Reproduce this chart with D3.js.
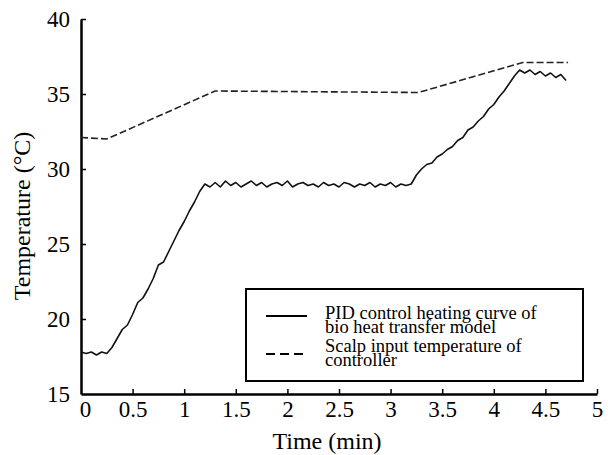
<!DOCTYPE html>
<html>
<head>
<meta charset="utf-8">
<script src="https://cdn.jsdelivr.net/npm/d3@7"></script>
<style>
  body { margin: 0; background: #fff; }
</style>
</head>
<body>
<svg id="chart"></svg>
<script>
// Scalp input temperature of controller (dashed)
const timeDashed = [0, 0.25, 1.3, 3.27, 4.28, 4.72];
const tempDashed = [32.1, 32.0, 35.2, 35.1, 37.1, 37.1];

// PID control heating curve (solid)
const timeSolid = [
  0, 0.05, 0.1, 0.15, 0.2, 0.25,
  0.3, 0.35, 0.4, 0.45, 0.5, 0.55, 0.6, 0.65, 0.7, 0.75, 0.8, 0.85, 0.9, 0.95, 1.0, 1.05, 1.1, 1.15, 1.2,
  1.25, 1.3, 1.35, 1.4, 1.45, 1.5, 1.55, 1.6, 1.65, 1.7, 1.75, 1.8, 1.85, 1.9, 1.95, 2.0, 2.05, 2.1, 2.15, 2.2,
  2.25, 2.3, 2.35, 2.4, 2.45, 2.5, 2.55, 2.6, 2.65, 2.7, 2.75, 2.8, 2.85, 2.9, 2.95, 3.0, 3.05, 3.1, 3.15, 3.2, 3.25,
  3.3, 3.35, 3.4, 3.45, 3.5, 3.55, 3.6, 3.65, 3.7, 3.75, 3.8, 3.85, 3.9, 3.95, 4.0, 4.05, 4.1, 4.15, 4.2, 4.25, 4.3,
  4.35, 4.4, 4.45, 4.5, 4.55, 4.6, 4.65, 4.7, 4.72
];
const tempSolid = [
  17.8, 17.7, 17.8, 17.6, 17.8, 17.7,
  18.1, 18.7, 19.3, 19.6, 20.3, 21.1, 21.4, 22.0, 22.7, 23.6, 23.8, 24.5, 25.2, 25.9, 26.5, 27.2, 27.8, 28.5, 29.0,
  28.8, 29.1, 28.8, 29.2, 28.9, 29.1, 28.8, 29.0, 29.2, 28.9, 29.1, 28.8, 29.0, 29.1, 28.9, 29.2, 28.8, 29.0, 29.1,
  28.9, 29.0, 28.8, 29.1, 28.9, 29.0, 28.8, 29.1, 29.0, 28.8, 29.0, 28.9, 29.1, 28.8, 29.0, 28.9, 29.1, 28.8, 29.0, 28.9, 29.0,
  29.6, 30.0, 30.3, 30.4, 30.8, 31.0, 31.3, 31.5, 31.9, 32.1, 32.6, 32.8, 33.2, 33.5, 34.0, 34.3, 34.8, 35.2, 35.7, 36.2, 36.6,
  36.4, 36.6, 36.3, 36.5, 36.2, 36.4, 36.1, 36.3, 35.9
];

const xTicks = [0, 0.5, 1, 1.5, 2, 2.5, 3, 3.5, 4, 4.5, 5];
const yTicks = [15, 20, 25, 30, 35, 40];
const legendLabels = [
  ["PID control heating curve of", "bio heat transfer model"],
  ["Scalp input temperature of", "controller"]
];

const serif = "Liberation Serif";

const width = 608, height = 455;
const margin = { top: 19, right: 11, bottom: 61, left: 81 };

const svg = d3.select("#chart").attr("width", width).attr("height", height);

const x = d3.scaleLinear().domain([0, 5]).range([margin.left, width - margin.right]);
const y = d3.scaleLinear().domain([15, 40]).range([height - margin.bottom, margin.top]);

// axes with inward ticks
const xAxis = svg.append("g")
  .attr("transform", `translate(0,${y(15)})`)
  .call(d3.axisBottom(x).tickValues(xTicks).tickSize(-5).tickSizeOuter(0).tickPadding(7)
    .tickFormat(d3.format("")));
const yAxis = svg.append("g")
  .attr("transform", `translate(${x(0)},0)`)
  .call(d3.axisLeft(y).tickValues(yTicks).tickSize(-5).tickSizeOuter(0).tickPadding(11));

[xAxis, yAxis].forEach(a => {
  a.select(".domain").attr("stroke", "#000").attr("stroke-width", 2.5);
  a.selectAll(".tick line").attr("stroke", "#000").attr("stroke-width", 1.5);
  a.selectAll(".tick text")
    .attr("fill", "#000")
    .attr("font-family", serif)
    .attr("font-size", 23);
});
// first x label sits right of the axis line
xAxis.selectAll(".tick").filter(d => d === 0).select("text").attr("dx", 4);
xAxis.selectAll(".tick").filter(d => d === 0).select("line").remove();
yAxis.selectAll(".tick").filter(d => d === 15).select("line").remove();

// axis titles
svg.append("text")
  .attr("x", 327).attr("y", 449)
  .attr("text-anchor", "middle")
  .attr("font-family", serif).attr("font-size", 24)
  .text("Time (min)");
svg.append("text")
  .attr("transform", `translate(30,216) rotate(-90)`)
  .attr("text-anchor", "middle")
  .attr("font-family", serif).attr("font-size", 24)
  .text("Temperature (°C)");

// lines
const line = d3.line().x(d => x(d[0])).y(d => y(d[1]));

svg.append("path")
  .datum(timeDashed.map((t, i) => [t, tempDashed[i]]))
  .attr("d", line)
  .attr("fill", "none").attr("stroke", "#222").attr("stroke-width", 1.6)
  .attr("stroke-dasharray", "7,3");

svg.append("path")
  .datum(timeSolid.map((t, i) => [t, tempSolid[i]]))
  .attr("d", line)
  .attr("fill", "none").attr("stroke", "#111").attr("stroke-width", 1.6)
  .attr("stroke-linejoin", "round");

// legend
const legend = svg.append("g");
legend.append("rect")
  .attr("x", 246).attr("y", 289).attr("width", 337).attr("height", 92)
  .attr("fill", "#fff").attr("stroke", "#000").attr("stroke-width", 2);

const legendLineY = [316, 354];
const legendTextY = [[319, 333], [352, 366]];
legendLabels.forEach((lines, i) => {
  legend.append("line")
    .attr("x1", 266).attr("x2", 307).attr("y1", legendLineY[i]).attr("y2", legendLineY[i])
    .attr("stroke", "#000").attr("stroke-width", 1.8)
    .attr("stroke-dasharray", i === 1 ? "9,5" : null);
  lines.forEach((txt, j) => {
    legend.append("text")
      .attr("x", 325).attr("y", legendTextY[i][j])
      .attr("font-family", serif).attr("font-size", 18.5)
      .text(txt);
  });
});
</script>
</body>
</html>
